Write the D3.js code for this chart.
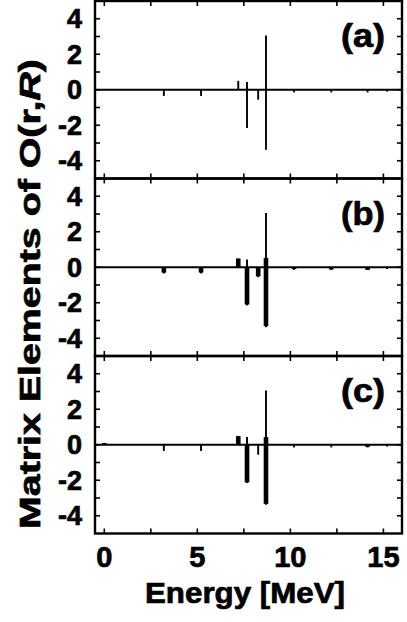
<!DOCTYPE html>
<html lang="en">
<head>
    <meta charset="UTF-8">
    <title>Matrix Elements</title>
    <script src="https://d3js.org/d3.v7.min.js"></script>
    <style>
        body { margin: 0; background: #fff; }
        text { font-family: "Liberation Sans", Arial, Helvetica, sans-serif; font-weight: bold; fill: #000; stroke: #000; stroke-width: 0.7px; }
    </style>
</head>
<body>
    <svg width="407" height="622"></svg>
    <script>

// Data (energy in MeV, matrix element)
const panelNames = ['(a)', '(b)', '(c)'];
const xTicks = [0, 5, 10, 15];
const yTicks = [-4, -2, 0, 2, 4];

// thin lines (shown in every panel)
const lineEnergy = [3.2, 5.2, 7.2, 7.67, 7.67, 8.27, 8.69, 8.69, 10.2, 12.2, 14.15, 15.2];
const lineValue = [-0.35, -0.35, 0.5, 0.43, -2.16, -0.56, 3.05, -3.38, -0.15, -0.15, -0.15, -0.1];

// thick bars, panel (b)
const barEnergyB = [3.2, 5.2, 7.2, 7.67, 8.27, 8.69, 8.69, 10.2, 12.2, 14.15];
const barValueB = [-0.3, -0.3, 0.49, -2.1, -0.51, 0.53, -3.32, -0.1, -0.12, -0.15];

// thick bars, panel (c)
const barEnergyC = [0, 7.2, 7.67, 8.69, 8.69, 14.15];
const barValueC = [0.1, 0.48, -2.12, 0.43, -3.33, -0.12];

const zip = (e, v) => e.map((d, i) => ({ e: d, v: v[i] }));
const lines = zip(lineEnergy, lineValue);
const panelBars = [[], zip(barEnergyB, barValueB), zip(barEnergyC, barValueC)];

const svg = d3.select("svg");
const plotLeft = 95, plotRight = 402, plotTop = 1, panelH = 177.5;

const x = d3.scaleLinear().domain([-0.5, 16]).range([plotLeft, plotRight]);

panelNames.forEach((name, p) => {
    const y0 = plotTop + p * panelH;
    const y = d3.scaleLinear().domain([-5, 5]).range([y0 + panelH, y0]);
    const g = svg.append("g");

    // thick bars
    g.selectAll("rect.bar")
        .data(panelBars[p])
        .join("rect")
        .attr("class", "bar")
        .attr("x", d => x(d.e) - 2.3)
        .attr("width", 4.6)
        .attr("y", d => y(Math.max(0, d.v)))
        .attr("height", d => Math.abs(y(d.v) - y(0)))
        .attr("fill", "#000");

    // thin lines
    g.selectAll("line.stick")
        .data(lines)
        .join("line")
        .attr("class", "stick")
        .attr("x1", d => x(d.e)).attr("x2", d => x(d.e))
        .attr("y1", y(0)).attr("y2", d => y(d.v))
        .attr("stroke", "#000").attr("stroke-width", 1.9);

    // zero line
    g.append("line")
        .attr("x1", plotLeft).attr("x2", plotRight)
        .attr("y1", y(0)).attr("y2", y(0))
        .attr("stroke", "#000").attr("stroke-width", 1.8);

    // y ticks, inward on both sides
    const yAll = d3.range(-4, 5);
    g.selectAll("line.yl").data(yAll).join("line")
        .attr("class", "yl")
        .attr("x1", plotLeft).attr("x2", plotLeft + 5)
        .attr("y1", d => y(d)).attr("y2", d => y(d))
        .attr("stroke", "#000").attr("stroke-width", 1.6);
    g.selectAll("line.yr").data(yAll).join("line")
        .attr("class", "yr")
        .attr("x1", plotRight - 5).attr("x2", plotRight)
        .attr("y1", d => y(d)).attr("y2", d => y(d))
        .attr("stroke", "#000").attr("stroke-width", 1.6);

    // x ticks top and bottom
    const xAll = d3.range(0, 16, 2.5);
    g.selectAll("line.xb").data(xAll).join("line")
        .attr("class", "xb")
        .attr("x1", d => x(d)).attr("x2", d => x(d))
        .attr("y1", y0 + panelH).attr("y2", y0 + panelH - 5)
        .attr("stroke", "#000").attr("stroke-width", 1.6);
    g.selectAll("line.xt").data(xAll).join("line")
        .attr("class", "xt")
        .attr("x1", d => x(d)).attr("x2", d => x(d))
        .attr("y1", y0).attr("y2", y0 + 5)
        .attr("stroke", "#000").attr("stroke-width", 1.6);

    // y tick labels
    g.selectAll("text.yt").data(yTicks).join("text")
        .attr("class", "yt")
        .attr("x", 82).attr("y", d => y(d))
        .attr("dy", "0.36em")
        .attr("text-anchor", "end")
        .attr("font-size", 27)
        .text(d => d);

    // frame
    g.append("rect")
        .attr("x", plotLeft).attr("y", y0)
        .attr("width", plotRight - plotLeft).attr("height", panelH)
        .attr("fill", "none").attr("stroke", "#000").attr("stroke-width", 2.4);

    // panel label
    g.append("text")
        .attr("x", 385).attr("y", y0 + 46)
        .attr("text-anchor", "end")
        .attr("font-size", 33)
        .attr("textLength", 44)
        .attr("lengthAdjust", "spacingAndGlyphs")
        .text(name);
});

// x tick labels
svg.selectAll("text.xtl").data(xTicks).join("text")
    .attr("class", "xtl")
    .attr("x", d => x(d)).attr("y", 567)
    .attr("text-anchor", "middle")
    .attr("font-size", 29)
    .text(d => d);

// axis titles
svg.append("text")
    .attr("x", 245).attr("y", 603)
    .attr("text-anchor", "middle")
    .attr("font-size", 29)
    .attr("textLength", 200)
    .attr("lengthAdjust", "spacingAndGlyphs")
    .text("Energy [MeV]");

const yl = svg.append("text")
    .attr("transform", "translate(40,294) rotate(-90)")
    .attr("text-anchor", "middle")
    .attr("font-size", 29)
    .attr("textLength", 470)
    .attr("lengthAdjust", "spacingAndGlyphs");
yl.append("tspan").text("Matrix Elements of O(r,");
yl.append("tspan").attr("font-style", "italic").text("R");
yl.append("tspan").text(")");

    </script>
</body>
</html>
